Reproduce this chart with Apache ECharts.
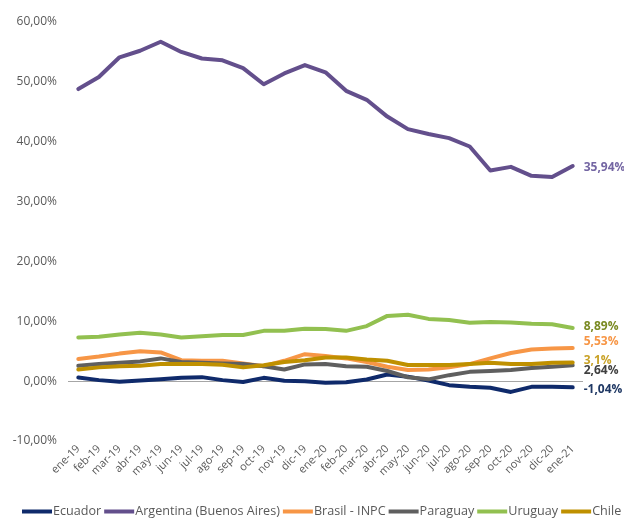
<!DOCTYPE html>
<html>
<head>
<meta charset="utf-8">
<script src="https://cdn.jsdelivr.net/npm/echarts@6/dist/echarts.min.js"></script>
<style>
html,body{margin:0;padding:0;background:#fff;}
#chart{width:624px;height:520px;}
</style>
</head>
<body>
<div id="chart"></div>
<script>
var categories = ['ene-19','feb-19','mar-19','abr-19','may-19','jun-19','jul-19','ago-19','sep-19','oct-19','nov-19','dic-19',
  'ene-20','feb-20','mar-20','abr-20','may-20','jun-20','jul-20','ago-20','sep-20','oct-20','nov-20','dic-20','ene-21'];

var ecuador   = [0.62,0.17,-0.1,0.1,0.33,0.55,0.67,0.17,-0.15,0.55,0.05,0.0,-0.28,-0.17,0.28,1.1,0.75,0.1,-0.67,-0.95,-1.1,-1.8,-0.95,-0.95,-1.04];
var argentina = [48.8,50.8,54.1,55.2,56.7,55.0,53.9,53.6,52.3,49.6,51.4,52.8,51.6,48.5,47.0,44.2,42.1,41.3,40.6,39.2,35.2,35.8,34.3,34.1,35.94];
var brasil    = [3.7,4.1,4.6,5.0,4.8,3.5,3.4,3.4,2.95,2.5,3.4,4.5,4.2,3.8,3.2,2.4,1.85,1.95,2.3,2.85,3.8,4.7,5.3,5.45,5.53];
var paraguay  = [2.56,2.85,3.06,3.3,3.8,3.2,3.06,2.95,2.85,2.5,1.95,2.8,2.85,2.5,2.4,1.7,0.65,0.3,1.0,1.55,1.7,1.85,2.2,2.4,2.64];
var uruguay   = [7.3,7.4,7.8,8.1,7.8,7.3,7.5,7.7,7.7,8.4,8.4,8.75,8.7,8.4,9.2,10.9,11.1,10.4,10.2,9.75,9.9,9.8,9.6,9.5,8.89];
var chile     = [1.95,2.3,2.5,2.56,2.85,2.85,2.85,2.75,2.3,2.67,3.2,3.5,3.96,3.96,3.6,3.4,2.7,2.7,2.7,2.85,3.06,2.85,2.85,3.06,3.1];

var seriesNames = ['Ecuador','Argentina (Buenos Aires)','Brasil - INPC','Paraguay','Uruguay','Chile'];
var endLabels = ['-1,04%','35,94%','5,53%','2,64%','8,89%','3,1%'];

var lineColors  = ['#0f2a6b','#634f8c','#f79646','#5f5f5f','#92c050','#bf9000'];
var labelColors = ['#1f3864','#7466a3','#f79646','#404040','#7a8a22','#c9a227'];
var labelOffsets = [[0,2],[0,2],[0,-6],[0,5],[0,-1],[0,-2]];

var allData = [ecuador, argentina, brasil, paraguay, uruguay, chile];

var series = allData.map(function(arr, idx){
  var s = {
    name: seriesNames[idx],
    type: 'line',
    data: arr,
    symbol: 'none',
    smooth: false,
    lineStyle: {width: 4, color: lineColors[idx], cap: 'round', join: 'round'},
    itemStyle: {color: lineColors[idx]},
    endLabel: {
      show: true,
      distance: 11,
      offset: labelOffsets[idx],
      formatter: endLabels[idx],
      color: labelColors[idx],
      fontWeight: 'bold',
      fontSize: 12,
      fontFamily: 'Open Sans'
    },
    z: 3 + idx
  };
  if (idx === 0) {
    s.markLine = {
      silent: true,
      symbol: ['none','none'],
      label: {show: false},
      lineStyle: {color: '#a6a6a6', width: 1, type: 'solid'},
      data: [{yAxis: 0}],
      z: 1
    };
  }
  return s;
});

var chart = echarts.init(document.getElementById('chart'));
chart.setOption({
  animation: false,
  backgroundColor: '#ffffff',
  textStyle: {fontFamily: 'Open Sans'},
  grid: {left: 68, right: 41, top: 22, bottom: 79, containLabel: false},
  legend: {
    top: 500,
    left: 17,
    width: 760,
    itemGap: 3,
    itemWidth: 30,
    itemHeight: 4,
    icon: 'rect',
    textStyle: {color: '#595959', fontSize: 12.6, fontFamily: 'Open Sans', padding: [0,0,0,-4]},
    data: seriesNames
  },
  xAxis: {
    type: 'category',
    data: categories,
    boundaryGap: true,
    axisLine: {show: false},
    axisTick: {show: false},
    splitLine: {show: false},
    axisLabel: {rotate: 45, color: '#595959', fontSize: 11, margin: 6, interval: 0}
  },
  yAxis: {
    type: 'value',
    min: -10,
    max: 60,
    interval: 10,
    axisLine: {show: false},
    axisTick: {show: false},
    splitLine: {show: false},
    axisLabel: {
      color: '#595959',
      fontSize: 12,
      margin: 11,
      formatter: function(v){ return v.toFixed(2).replace('.', ',') + '%'; }
    }
  },
  series: series
});
</script>
</body>
</html>
